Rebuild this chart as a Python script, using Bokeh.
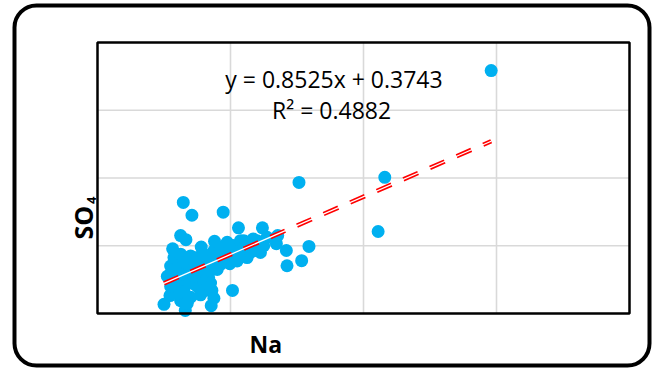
import math
from bokeh.plotting import figure
from bokeh.models import Range1d, Label, BoxAnnotation
from bokeh.embed import file_html
from bokeh.resources import INLINE

# --- data ---
na = [59.2, 43.2, 42.2, 30.3, 31.8, 30.7, 28.5, 28.4, 26.9, 27.1, 24.8, 21.2, 18.9,
      12.9, 14.2, 12.5, 13.3, 11.3, 15.6, 17.6, 20.3, 17.1, 13.2, 10.0, 10.9, 14.0,
      16.2, 17.2, 19.9, 23.9, 22.6, 23.4, 22.0, 20.4, 19.1, 18.3, 16.7, 15.0, 14.0,
      11.8, 11.6, 11.0, 12.1, 13.4, 15.0, 16.7, 12.9, 11.8, 14.5, 15.6, 17.7, 19.9,
      21.5, 12.5, 13.7,
      11.0, 11.5, 12.0, 12.5, 13.0, 13.5, 14.0, 14.5, 15.0, 15.5, 16.0, 16.5, 17.0,
      17.5, 18.0, 18.5, 19.0, 19.5, 20.0, 20.5, 21.0, 21.5, 22.0, 22.5, 23.0, 23.5,
      24.0, 24.5, 25.0, 25.5, 12.0, 13.0, 14.0, 15.0, 16.0, 17.0, 11.5, 10.5, 12.5,
      14.5, 16.5, 17.5, 15.5, 13.5, 12.0, 11.0, 18.5, 22.0, 23.0]
so4 = [71.7, 40.2, 24.2, 38.7, 19.8, 15.6, 14.1, 18.6, 20.6, 23.0, 25.3, 25.3, 29.9,
       32.8, 29.0, 23.0, 21.8, 19.1, 19.6, 21.3, 6.8, 2.3, 0.9, 2.7, 5.3, 4.8,
       6.8, 6.8, 14.7, 18.6, 18.1, 22.0, 21.5, 20.1, 18.6, 16.1, 14.7, 14.7, 15.6,
       15.6, 12.7, 11.7, 10.2, 10.7, 10.7, 10.7, 7.8, 7.8, 8.8, 12.7, 16.6, 19.6,
       19.6, 3.8, 4.8,
       14.0, 16.5, 13.5, 17.5, 15.0, 12.5, 17.0, 13.5, 16.5, 11.5, 17.5, 13.0, 15.5,
       18.5, 13.0, 19.5, 16.5, 21.0, 17.5, 18.5, 15.5, 21.5, 19.5, 16.5, 20.5, 19.0,
       21.5, 18.0, 20.0, 22.5, 9.5, 6.5, 9.0, 8.0, 9.5, 9.0, 9.0, 11.0, 11.5,
       11.0, 7.5, 4.5, 5.5, 3.0, 6.0, 8.0, 14.5, 17.0, 18.0]

slope = 0.8525
intercept = 0.3743
equation_text = "y = 0.8525x + 0.3743"
r2_text = "R\u00b2 = 0.4882"
x_label = "Na"
y_label_main = "SO"
y_label_sub = "4"
axis_min, axis_max = 0, 80
grid_ticks = [20, 40, 60]

# frame covers the whole canvas; the plot box (0..80 x 0..80) sits inside it
W, H = 660, 368
box_l, box_r, box_t, box_b = 97, 629, 42, 313
sx = (box_r - box_l) / (axis_max - axis_min)
sy = (box_b - box_t) / (axis_max - axis_min)
xr = Range1d(axis_min - box_l / sx, axis_max + (W - box_r) / sx)
yr = Range1d(axis_min - (H - box_b) / sy, axis_max + box_t / sy)

p = figure(width=W, height=H, output_backend="svg", toolbar_location=None,
           x_range=xr, y_range=yr, x_axis_location=None, y_axis_location=None,
           title=None, min_border=0)
p.xgrid.visible = False
p.ygrid.visible = False
p.background_fill_color = "white"
p.border_fill_color = "white"
p.outline_line_color = None

font = "Open Sans"

# subscript drawn underneath the plot area (partly hidden by it, as in the reference)
sub = Label(x=-0.95, y=32.3, angle=math.pi / 2, text=y_label_sub, text_align="left",
            text_baseline="alphabetic", text_font=font, text_font_size="13px",
            text_font_style="bold", text_color="black")
sub.level = "underlay"
p.add_layout(sub)

# plot area (white)
p.quad(left=[axis_min], right=[axis_max], bottom=[axis_min], top=[axis_max],
       fill_color="white", line_color=None)

gcol = "#D9D9D9"
p.segment(x0=grid_ticks, y0=[axis_min] * 3, x1=grid_ticks, y1=[axis_max] * 3,
          line_color=gcol, line_width=1.6)
p.segment(x0=[axis_min] * 3, y0=grid_ticks, x1=[axis_max] * 3, y1=grid_ticks,
          line_color=gcol, line_width=1.6)

p.scatter(na, so4, size=13, fill_color="#00B0F0", line_color=None)

x0, x1 = min(na), max(na)
tx = [x0, x1]
ty = [slope * v + intercept for v in tx]
p.line(tx, ty, line_color="#FF0000", line_width=4.5, line_dash="16 13")
p.line(tx, ty, line_color="white", line_width=1.3)

p.add_layout(BoxAnnotation(left=axis_min, right=axis_max, bottom=axis_min, top=axis_max,
                           fill_alpha=0, line_color="black", line_alpha=1, line_width=2.5))

p.add_layout(Label(x=35.56, y=69.25, text=equation_text, text_align="center",
                   text_baseline="alphabetic", text_font=font, text_font_size="23px",
                   text_color="black"))
p.add_layout(Label(x=35.2, y=59.95, text=r2_text, text_align="center",
                   text_baseline="alphabetic", text_font=font, text_font_size="23px",
                   text_color="black"))
p.add_layout(Label(x=25.3, y=-9.1, text=x_label, text_align="center",
                   text_baseline="alphabetic", text_font=font, text_font_size="23px",
                   text_font_style="bold", text_color="black"))
p.add_layout(Label(x=-2.14, y=21.85, angle=math.pi / 2, text=y_label_main, text_align="left",
                   text_baseline="alphabetic", text_font=font, text_font_size="25px",
                   text_font_style="bold", text_color="black"))

# outer rounded chart border
p.add_layout(BoxAnnotation(left=(14 - box_l) / sx, right=(649 - box_l) / sx,
                           top=(box_b - 5) / sy, bottom=(box_b - 365) / sy,
                           fill_alpha=0, line_color="black", line_alpha=1, line_width=4,
                           border_radius=22))

open("out.html", "w").write(file_html(p, INLINE))
